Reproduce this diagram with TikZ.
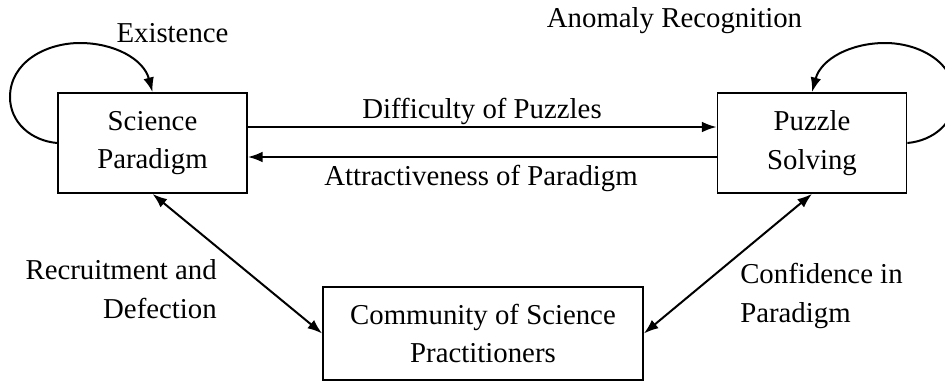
\documentclass[tikz,border=0pt]{standalone}
\usepackage{fontspec}
\setmainfont{Liberation Serif}
\usetikzlibrary{arrows.meta}
\begin{document}
\begin{tikzpicture}[x=0.75pt,y=0.75pt,
  every node/.style={font=\fontsize{21.6}{29}\selectfont},
  box/.style={draw, line width=1.3pt, align=center, inner sep=0pt},
  link/.style={line width=1.5pt, -{Latex[length=11pt,width=8pt]}},
  both/.style={line width=1.5pt, {Latex[length=11pt,width=8pt]}-{Latex[length=11pt,width=8pt]}},
  lbl/.style={inner sep=0pt, anchor=base}]
\useasboundingbox (0,0) rectangle (945,-383);

% the three stocks
\node[box, minimum width=141.75pt, minimum height=75pt] (sci) at (152.5,-143) {Science\\Paradigm};
\node[box, minimum width=141.75pt, minimum height=75pt] (puz) at (812,-143) {Puzzle\\Solving};
\node[box, minimum width=240pt, minimum height=69.75pt] (com) at (483,-333.5) {Community of Science\\Practitioners};

% horizontal flows between paradigm and puzzle solving
\draw[link] ([yshift=12pt]sci.east) -- ([yshift=12pt]puz.west);
\draw[link] ([yshift=-10.5pt]puz.west) -- ([yshift=-10.5pt]sci.east);

% two-way links with the community
\draw[both] (sci.south) -- (com.west);
\draw[both] (puz.south) -- (com.east);

% self loops
\coordinate (sl1) at (10,-97);
\coordinate (sl2) at (80,-43);
\draw[link] (sci.west) to[out=175,in=-90] (sl1) to[out=90,in=180] (sl2) to[out=0,in=105] (sci.north);
\coordinate (pl1) at (955,-97);
\coordinate (pl2) at (885,-43);
\draw[link] (puz.east) to[out=5,in=-90] (pl1) to[out=90,in=0] (pl2) to[out=180,in=75] (puz.north);

% labels (multi-line ones sit on the baseline of their last line)
\node[lbl] (exist) at (172.5,-42) {Existence};
\node[lbl] (anom) at (674.5,-27) {Anomaly Recognition};
\node[lbl] (diff) at (482,-118) {Difficulty of Puzzles};
\node[lbl] (attr) at (481,-185) {Attractiveness of Paradigm};
\node[lbl, anchor=base east, align=right] (recr) at (217,-318) {Recruitment and\\Defection};
\node[lbl, anchor=base west, align=left] (conf) at (740,-322) {Confidence in\\Paradigm};
\end{tikzpicture}
\end{document}
